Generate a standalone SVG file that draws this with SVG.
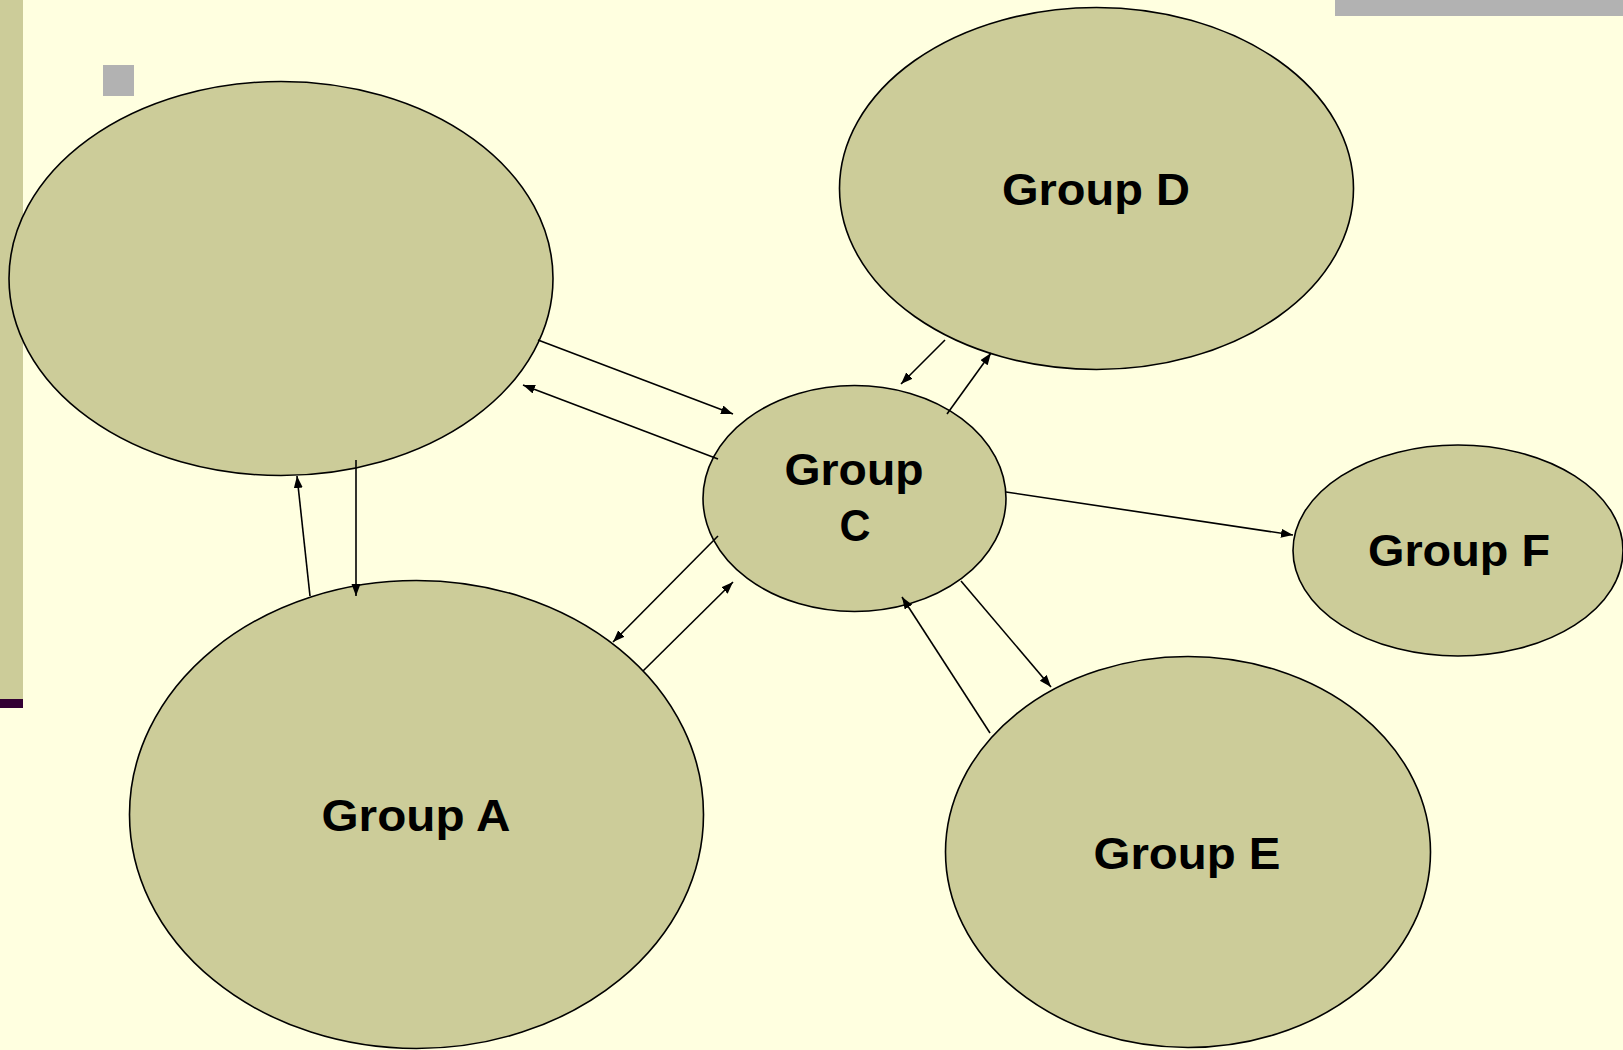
<svg xmlns="http://www.w3.org/2000/svg" width="1623" height="1050" viewBox="0 0 1623 1050">
  <style>
    .node { fill: #cccc99; stroke: #000; stroke-width: 1.6; }
    .lbl { font-family: "Liberation Sans", Arial, sans-serif; font-weight: bold; font-size: 45px; fill: #000; text-anchor: middle; }
    .conn line { stroke: #000; stroke-width: 1.6; marker-end: url(#ah); }
  </style>
  <defs>
    <marker id="ah" markerUnits="userSpaceOnUse" markerWidth="13" markerHeight="10" refX="12" refY="4.5" orient="auto">
      <path d="M0,0 L12,4.5 L0,9 z" fill="#000"/>
    </marker>
  </defs>
  <rect x="0" y="0" width="1623" height="1050" fill="#ffffe0"/>
  <g id="decor">
    <rect x="0" y="0" width="23" height="699" fill="#cccc99"/>
    <rect x="0" y="699" width="23" height="9" fill="#330033"/>
    <rect x="1335" y="0" width="288" height="16" fill="#b2b2b2"/>
    <rect x="103" y="65" width="31" height="31" fill="#b2b2b2"/>
  </g>
  <g id="node-b">
    <ellipse class="node" cx="281" cy="278.5" rx="272" ry="197"/>
  </g>
  <g id="node-d">
    <ellipse class="node" cx="1096.5" cy="188.5" rx="257" ry="181"/>
    <text class="lbl" x="1096" y="205" textLength="188" lengthAdjust="spacingAndGlyphs">Group D</text>
  </g>
  <g id="node-c">
    <ellipse class="node" cx="854.5" cy="498.5" rx="151.5" ry="113"/>
    <text class="lbl" x="854" y="485" textLength="139" lengthAdjust="spacingAndGlyphs">Group</text>
    <text class="lbl" x="855" y="541" textLength="31" lengthAdjust="spacingAndGlyphs">C</text>
  </g>
  <g id="node-f">
    <ellipse class="node" cx="1458" cy="550.5" rx="165" ry="105.5"/>
    <text class="lbl" x="1459" y="566" textLength="182" lengthAdjust="spacingAndGlyphs">Group F</text>
  </g>
  <g id="node-a">
    <ellipse class="node" cx="416.5" cy="814.5" rx="287" ry="234"/>
    <text class="lbl" x="416" y="831" textLength="189" lengthAdjust="spacingAndGlyphs">Group A</text>
  </g>
  <g id="node-e">
    <ellipse class="node" cx="1188" cy="852" rx="242.5" ry="195.5"/>
    <text class="lbl" x="1187" y="869" textLength="187" lengthAdjust="spacingAndGlyphs">Group E</text>
  </g>
  <g id="connectors" class="conn">
    <line x1="538" y1="340" x2="733" y2="414"/>
    <line x1="718" y1="459" x2="523" y2="385"/>
    <line x1="310" y1="596" x2="297" y2="476"/>
    <line x1="356" y1="460" x2="356" y2="596"/>
    <line x1="718" y1="536" x2="613" y2="642"/>
    <line x1="643" y1="671" x2="733" y2="582"/>
    <line x1="945" y1="340" x2="901" y2="384"/>
    <line x1="947" y1="414" x2="991" y2="353"/>
    <line x1="990" y1="733" x2="902" y2="597"/>
    <line x1="961" y1="581" x2="1051" y2="687"/>
    <line x1="1006" y1="492" x2="1293" y2="535"/>
  </g>
</svg>
